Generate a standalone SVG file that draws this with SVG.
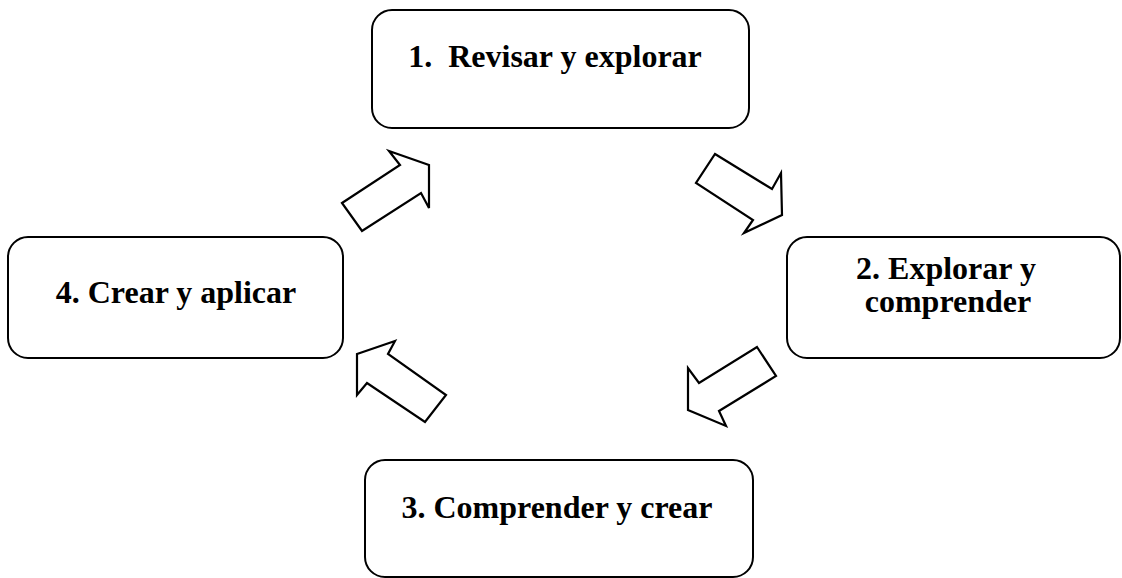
<svg xmlns="http://www.w3.org/2000/svg" width="1122" height="578" viewBox="0 0 1122 578">
<style>
.box{fill:#fff;stroke:#000;stroke-width:2}
.lbl{font-family:"Liberation Serif","Times New Roman",serif;font-weight:bold;font-size:32px;fill:#000;text-anchor:middle;white-space:pre}
.arr{fill:#fff;stroke:#000;stroke-width:2.2;stroke-linejoin:miter}
</style>
<rect width="1122" height="578" fill="#fff"/>
<g id="node1">
<rect class="box" x="372" y="10" width="377" height="118" rx="20"/>
<text class="lbl" x="555" y="67" xml:space="preserve">1.  Revisar y explorar</text>
</g>
<g id="node2">
<rect class="box" x="787" y="237" width="333" height="121" rx="20"/>
<text class="lbl" x="946" y="279">2. Explorar y</text>
<text class="lbl" x="948" y="312">comprender</text>
</g>
<g id="node3">
<rect class="box" x="365" y="460" width="388" height="117" rx="20"/>
<text class="lbl" x="557" y="518">3. Comprender y crear</text>
</g>
<g id="node4">
<rect class="box" x="8" y="237" width="335" height="121" rx="20"/>
<text class="lbl" x="176" y="303">4. Crear y aplicar</text>
</g>
<g id="connectors">
<polygon class="arr" points="342,203 400,165 389,151 429,165 429,208 421,193 362,231"/>
<polygon class="arr" points="715,154 772,189 781,173 782,215 744,233 753,220 696,183"/>
<polygon class="arr" points="757,347 776,376 719,411 726,426 688,410 688,368 699,383"/>
<polygon class="arr" points="395,341 357,354 357,395 367,383 425,422 446,395 388,354"/>
</g>
</svg>
